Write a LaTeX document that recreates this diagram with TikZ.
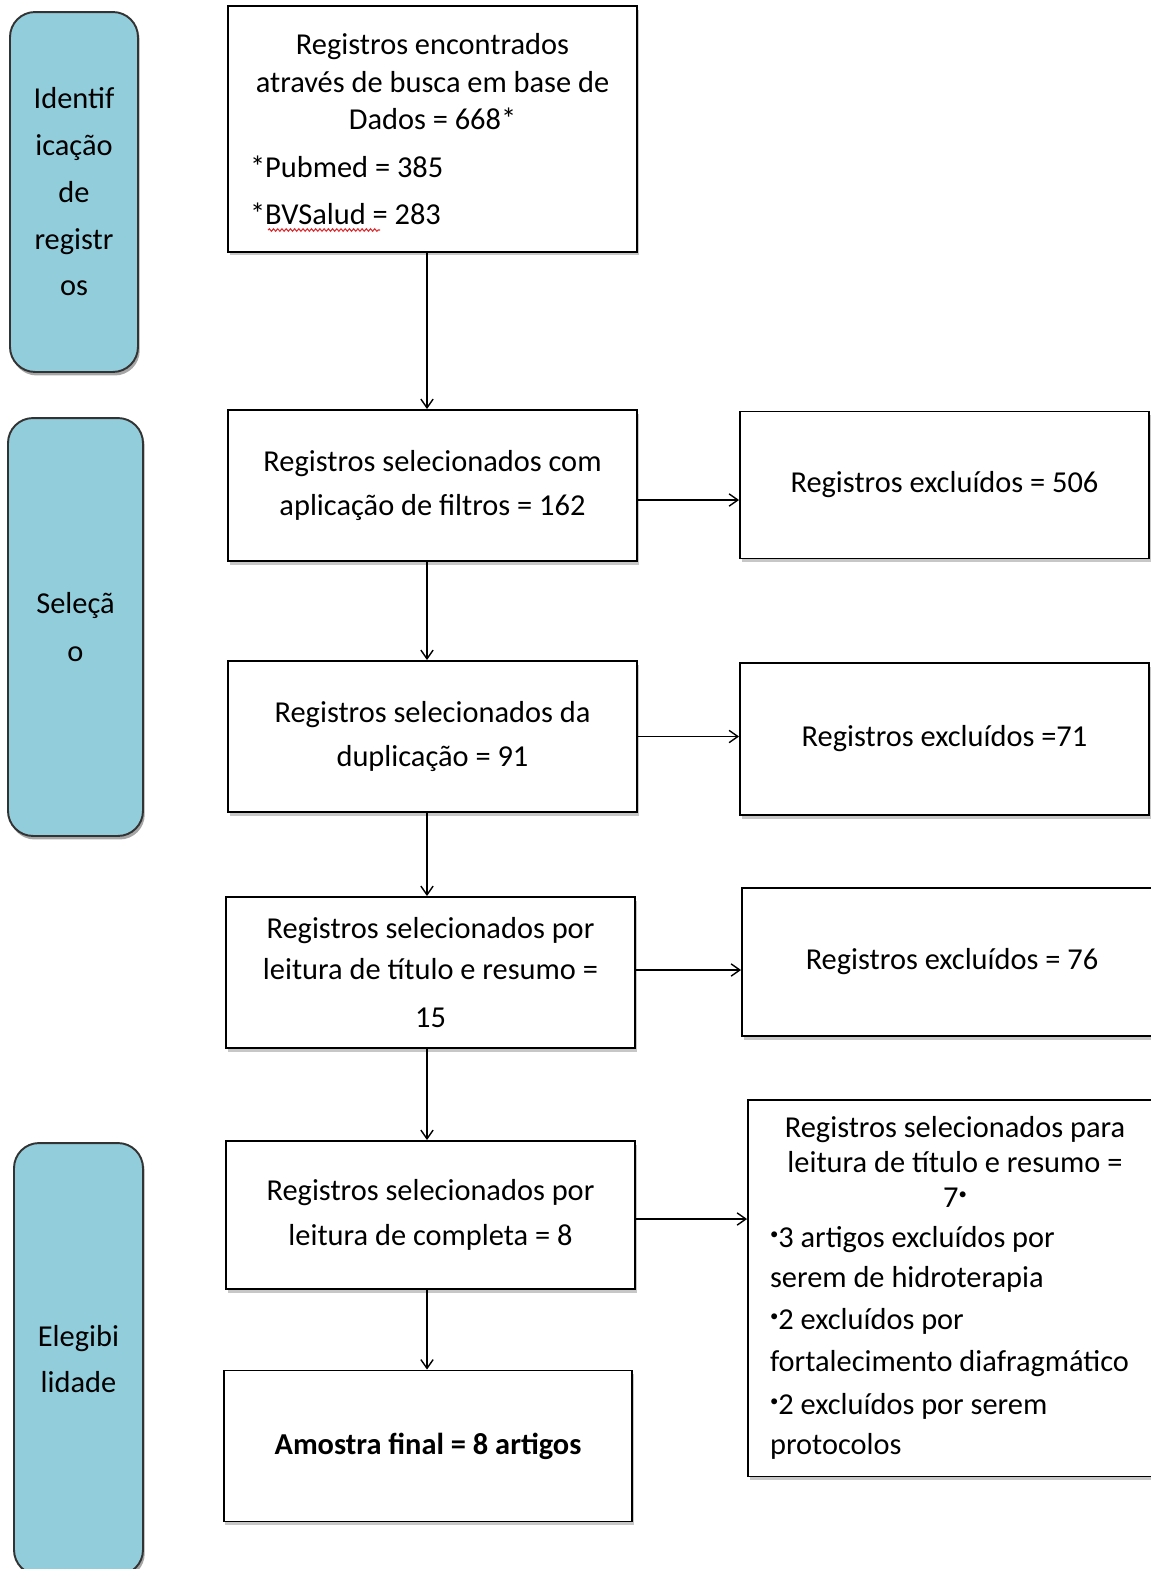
\documentclass[tikz,border=0pt]{standalone}
\usepackage{fontspec}
\setmainfont{Carlito}
\usepackage{graphicx}
\usepackage{tikz}
\usetikzlibrary{positioning,arrows.meta,calc,shadows,decorations.pathmorphing}
\definecolor{lanefill}{HTML}{92CDDC}
\definecolor{spellred}{HTML}{E0282E}
\newcommand{\fs}{\fontsize{17.3pt}{21.3pt}\selectfont}
\newcommand{\blt}{\raisebox{.55ex}{\scalebox{.55}{•}}}
\newcommand{\lln}[2]{\makebox[#1][l]{#2}}
\tikzset{
  box/.style={draw,line width=1.1pt,fill=white,minimum width=8.18cm,align=center,inner sep=0pt,font=\fs,
    drop shadow={shadow xshift=1pt,shadow yshift=-2pt,fill=black!22,opacity=1}},
  lane/.style={draw=black!80,line width=1.1pt,fill=lanefill,rounded corners=0.5cm,align=center,inner sep=0pt,font=\fs,
    drop shadow={shadow xshift=1pt,shadow yshift=-2pt,fill=black!35,opacity=1}},
  arr/.style={-{Straight Barb[length=5pt,width=7pt]},line width=0.8pt},
  wavy/.style={spellred,line width=0.6pt,decorate,decoration={snake,amplitude=0.7pt,segment length=2.4pt}},
}
\begin{document}
\begin{tikzpicture}[x=0.02cm,y=-0.02cm]
\useasboundingbox (0,0) rectangle (1151,1569);
% phases
\node[lane,minimum width=2.56cm,minimum height=7.2cm] (idt) at (74,192) {Identif\\[5.3pt]icação\\[5.3pt]de\\[5.3pt]registr\\[5.3pt]os};
\node[lane,minimum width=2.7cm,minimum height=8.36cm] (sel) at (75.5,627) {Seleçã\\[6.5pt]o};
\node[lane,minimum width=2.58cm,minimum height=8.64cm] (eleg) at (78.5,1359) {Elegibi\\[5.3pt]lidade};
% main flow
\node[box,minimum height=4.92cm] (found) at (432.5,129) {Registros encontrados\\através de busca em base de\\Dados = 668*\\[5.9pt]\lln{7.3cm}{*Pubmed = 385}\\[5.4pt]\lln{7.3cm}{*BVSalud = 283}};
\node[box,minimum height=3.02cm] (filt) at (432.5,485.5) {Registros selecionados com\\[3.7pt]aplicação de filtros = 162};
\node[box,minimum height=3.02cm] (dup) at (432.5,736.5) {Registros selecionados da\\[4.2pt]duplicação = 91};
\node[box,minimum height=3.02cm] (tit) at (430.5,972.5) {Registros selecionados por\\[2.5pt]leitura de título e resumo =\\[6pt]15};
\node[box,minimum height=2.96cm] (full) at (430.5,1215) {Registros selecionados por\\[4.2pt]leitura de completa = 8};
\node[box,minimum height=3.02cm,font=\fs\bfseries] (final) at (428,1446) {Amostra final = 8 artigos};
% exclusions
\node[box,minimum height=2.94cm] (ex1) at (944.5,485) {Registros excluídos = 506};
\node[box,minimum height=3.04cm] (ex2) at (944.5,739) {Registros excluídos =71};
\node[box,minimum width=8.4cm,minimum height=2.96cm] (ex3) at (952,962) {Registros excluídos = 76};
\node[box,minimum width=8.28cm,minimum height=7.54cm] (ex4) at (955,1288) {Registros selecionados para\\[-1.5pt]leitura de título e resumo =\\[-1.5pt]7\blt\\[1.4pt]\lln{7.4cm}{\blt3 artigos excluídos por}\\[1.4pt]\lln{7.4cm}{serem de hidroterapia}\\[3.1pt]\lln{7.4cm}{\blt2 excluídos por}\\[2.5pt]\lln{7.4cm}{fortalecimento diafragmático}\\[3.1pt]\lln{7.4cm}{\blt2 excluídos por serem}\\[1.4pt]\lln{7.4cm}{protocolos}};
% spell-check mark
\draw[wavy] (268,230) -- (380,230);
\coordinate (spine) at (427,0);
\foreach \a/\b in {found/filt,filt/dup,dup/tit,tit/full,full/final}{\draw[arr] (\a.south -| spine) -- (\b.north -| spine);}
\foreach \a/\b/\d in {filt/ex1/14.5,dup/ex2/0,tit/ex3/-2.5,full/ex4/4}{
  \coordinate (t) at ($(\a.east)+(0,\d)$);
  \draw[arr] (t) -- (t -| \b.west);
}
\end{tikzpicture}
\end{document}
